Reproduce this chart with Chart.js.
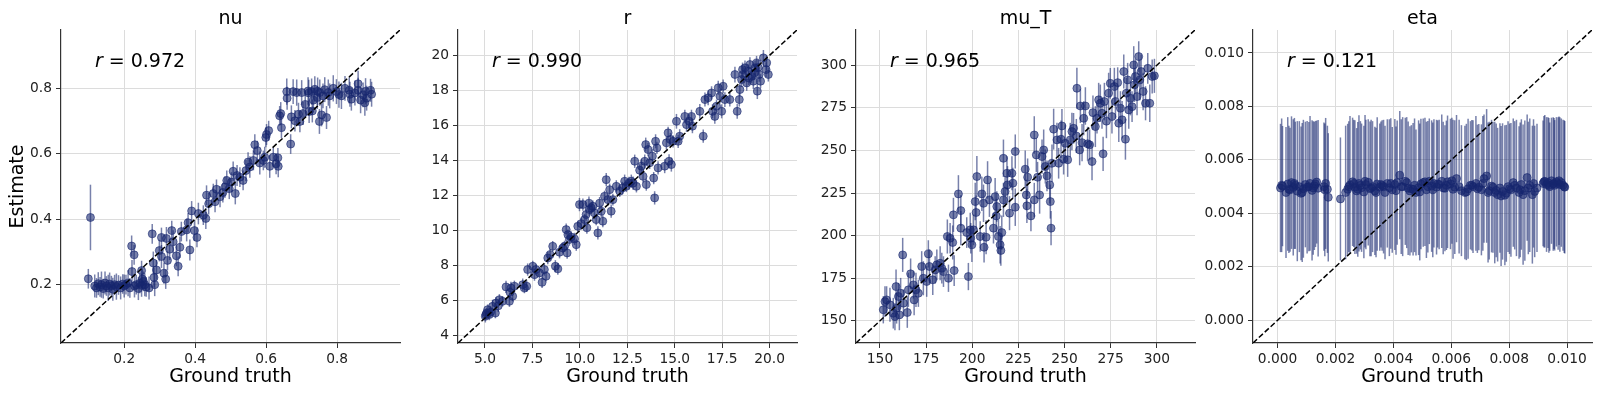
<!DOCTYPE html>
<html>
<head>
<meta charset="UTF-8">
<title>Parameter recovery</title>
<script src="https://cdn.jsdelivr.net/npm/chart.js@4.4.1/dist/chart.umd.min.js"></script>
<style>
  body { margin: 0; background: #fff; width: 1600px; height: 394px; overflow: hidden; position: relative; }
  canvas { position: absolute; top: 0; }
</style>
</head>
<body>
<canvas id="p0" width="405" height="394" style="left:1px"></canvas>
<canvas id="p1" width="405" height="394" style="left:398px"></canvas>
<canvas id="p2" width="405" height="394" style="left:796px"></canvas>
<canvas id="p3" width="405" height="394" style="left:1193px"></canvas>
<script>
// nu: ground truth, estimate, error half-width
var nuX = [
  0.099,0.105,0.117,0.122,0.127,0.132,0.136,0.141,0.146,0.150,
  0.155,0.159,0.164,0.168,0.173,0.178,0.184,0.190,0.196,0.200,
  0.205,0.211,0.216,0.229,0.234,0.240,0.244,0.249,0.254,0.258,
  0.262,0.270,0.221,0.228,0.222,0.249,0.251,0.279,0.282,0.284,
  0.286,0.291,0.299,0.305,0.305,0.312,0.317,0.319,0.322,0.328,
  0.334,0.338,0.347,0.352,0.357,0.361,0.376,0.380,0.385,0.390,
  0.398,0.405,0.409,0.423,0.430,0.432,0.438,0.451,0.456,0.460,
  0.470,0.478,0.484,0.489,0.496,0.502,0.513,0.507,0.518,0.526,
  0.535,0.543,0.549,0.554,0.564,0.568,0.575,0.582,0.592,0.596,
  0.599,0.601,0.607,0.610,0.620,0.628,0.633,0.634,0.638,0.643,
  0.641,0.669,0.658,0.659,0.676,0.671,0.681,0.686,0.691,0.695,
  0.700,0.704,0.710,0.718,0.721,0.728,0.730,0.733,0.737,0.744,
  0.750,0.756,0.751,0.760,0.770,0.775,0.779,0.789,0.798,0.812,
  0.822,0.834,0.836,0.840,0.859,0.859,0.866,0.873,0.878,0.883,
  0.894,0.897,0.720,0.745,0.765,0.805,0.850,0.880
];
var nuY = [
  0.218,0.405,0.196,0.190,0.203,0.193,0.200,0.188,0.205,0.196,
  0.190,0.202,0.197,0.186,0.200,0.194,0.199,0.190,0.202,0.196,
  0.200,0.205,0.190,0.196,0.200,0.188,0.204,0.198,0.210,0.200,
  0.193,0.190,0.318,0.291,0.240,0.243,0.217,0.355,0.266,0.222,
  0.200,0.245,0.304,0.344,0.286,0.235,0.217,0.341,0.274,0.308,
  0.365,0.331,0.288,0.256,0.314,0.362,0.367,0.389,0.306,0.425,
  0.365,0.344,0.417,0.412,0.402,0.473,0.447,0.478,0.453,0.491,
  0.468,0.481,0.498,0.518,0.493,0.513,0.478,0.546,0.533,0.528,
  0.518,0.548,0.574,0.559,0.579,0.627,0.609,0.571,0.579,0.589,
  0.649,0.658,0.670,0.561,0.589,0.569,0.587,0.561,0.715,0.679,
  0.722,0.629,0.789,0.769,0.789,0.712,0.700,0.786,0.720,0.698,
  0.786,0.722,0.750,0.791,0.728,0.789,0.730,0.763,0.796,0.771,
  0.698,0.718,0.786,0.776,0.710,0.786,0.776,0.799,0.789,0.776,
  0.799,0.793,0.781,0.766,0.813,0.793,0.763,0.779,0.755,0.769,
  0.793,0.781,0.785,0.790,0.795,0.780,0.785,0.790
];
var nuErr = [
  0.030,0.100,0.035,0.030,0.035,0.030,0.040,0.030,0.035,0.030,
  0.040,0.035,0.030,0.035,0.030,0.040,0.030,0.035,0.030,0.035,
  0.030,0.040,0.030,0.035,0.030,0.035,0.030,0.035,0.030,0.035,
  0.030,0.035,0.032,0.030,0.035,0.030,0.032,0.030,0.035,0.030,
  0.035,0.030,0.033,0.030,0.035,0.032,0.030,0.035,0.030,0.033,
  0.030,0.035,0.032,0.030,0.033,0.030,0.035,0.030,0.032,0.030,
  0.032,0.030,0.033,0.030,0.032,0.030,0.033,0.030,0.032,0.030,
  0.032,0.030,0.033,0.030,0.032,0.030,0.033,0.030,0.032,0.030,
  0.030,0.032,0.030,0.033,0.030,0.032,0.030,0.035,0.030,0.032,
  0.030,0.032,0.030,0.035,0.030,0.032,0.030,0.033,0.030,0.032,
  0.035,0.030,0.040,0.035,0.038,0.035,0.033,0.040,0.035,0.033,
  0.038,0.035,0.040,0.042,0.035,0.040,0.035,0.038,0.040,0.035,
  0.038,0.035,0.040,0.038,0.035,0.040,0.038,0.040,0.038,0.040,
  0.038,0.040,0.038,0.035,0.040,0.038,0.040,0.038,0.040,0.038,
  0.035,0.038,0.040,0.042,0.038,0.040,0.038,0.040
];

// r
var rX = [
  5.09,5.02,5.14,5.23,5.40,5.55,5.58,5.76,5.93,6.11,
  6.29,6.32,6.37,6.46,6.55,6.99,7.08,7.20,7.25,7.52,
  7.61,7.69,7.87,8.01,8.13,8.22,8.31,8.43,8.57,8.71,
  8.84,8.93,9.10,9.19,9.28,9.33,9.37,9.45,9.54,9.72,
  9.81,9.89,9.98,10.07,10.16,10.25,10.33,10.37,10.48,10.60,
  10.69,10.77,10.86,10.95,11.04,11.13,11.21,11.30,11.39,11.48,
  11.57,11.65,11.74,11.92,12.10,12.24,12.36,12.45,12.59,12.71,
  12.89,12.98,13.15,13.24,13.33,13.42,13.47,13.50,13.59,13.68,
  13.82,13.89,13.94,13.99,14.06,14.12,14.47,14.56,14.65,14.70,
  14.77,14.82,14.91,15.09,15.18,15.26,15.53,15.62,15.76,15.88,
  15.93,16.32,16.50,16.59,16.76,16.94,16.99,17.11,17.20,17.29,
  17.38,17.47,17.55,17.64,17.90,18.17,18.29,18.40,18.43,18.52,
  18.57,18.70,18.79,18.87,18.96,19.05,19.14,19.23,19.31,19.35,
  19.45,19.52,19.67,19.81,19.93,19.84,5.05,5.30,5.70,18.60,
  18.90,19.20,19.40,10.50,12.80
];
var rY = [
  5.29,5.10,5.48,5.20,5.67,5.29,5.86,6.05,5.96,6.78,
  5.96,6.47,6.72,6.25,6.82,6.91,6.72,6.82,7.77,7.96,
  7.48,7.77,7.58,7.04,7.77,7.39,8.43,8.62,9.10,7.96,
  7.81,8.76,9.00,9.10,10.05,8.72,9.76,9.48,9.63,9.52,
  9.19,10.24,11.48,10.39,11.48,10.62,10.91,10.15,11.56,11.29,
  11.38,11.00,10.62,9.86,11.56,11.10,10.53,11.95,12.90,11.76,
  12.33,11.10,11.76,12.52,12.24,12.43,12.81,12.52,12.71,12.81,
  13.95,12.52,13.44,13.67,13.09,13.95,14.90,12.62,14.62,13.86,
  14.24,12.99,11.86,15.09,14.71,13.57,13.67,15.00,15.57,13.95,
  15.19,13.76,15.09,16.23,15.09,15.38,16.51,16.04,16.23,16.51,
  15.95,16.80,15.38,17.47,17.57,17.85,16.80,16.51,17.09,18.14,
  17.66,16.80,18.23,17.47,17.47,18.90,16.80,17.47,18.04,18.61,
  19.18,19.28,18.42,19.09,19.47,18.80,18.52,19.28,19.56,17.95,
  18.90,18.52,19.85,19.18,18.90,19.56,5.20,5.35,5.70,18.90,
  18.70,19.00,19.30,11.20,12.70
];
var rErr = [
  0.30,0.35,0.30,0.32,0.38,0.30,0.35,0.32,0.30,0.35,
  0.32,0.30,0.35,0.30,0.32,0.35,0.30,0.33,0.35,0.32,
  0.35,0.30,0.33,0.32,0.35,0.30,0.35,0.32,0.30,0.35,
  0.33,0.35,0.30,0.32,0.35,0.33,0.30,0.35,0.32,0.35,
  0.35,0.32,0.38,0.33,0.35,0.32,0.35,0.33,0.38,0.35,
  0.33,0.35,0.32,0.38,0.35,0.33,0.35,0.32,0.38,0.35,
  0.35,0.38,0.33,0.35,0.32,0.35,0.38,0.33,0.35,0.38,
  0.38,0.35,0.33,0.40,0.35,0.38,0.40,0.35,0.38,0.35,
  0.40,0.35,0.38,0.40,0.35,0.38,0.40,0.38,0.35,0.40,
  0.38,0.40,0.35,0.42,0.38,0.40,0.38,0.42,0.40,0.38,
  0.40,0.42,0.38,0.40,0.42,0.38,0.40,0.42,0.38,0.40,
  0.42,0.40,0.38,0.42,0.40,0.45,0.42,0.40,0.38,0.42,
  0.40,0.42,0.45,0.40,0.42,0.40,0.45,0.42,0.40,0.45,
  0.42,0.40,0.45,0.42,0.40,0.42,0.30,0.32,0.35,0.42,
  0.40,0.42,0.45,0.35,0.38
];

// mu_T
var muX = [
  151.8,152.7,153.6,155.4,157.2,158.1,158.7,159.0,160.0,160.5,
  161.2,162.3,162.7,164.8,165.4,166.6,168.1,168.5,169.5,170.8,
  172.6,173.5,175.3,176.2,176.8,178.6,179.9,180.8,182.6,183.5,
  184.4,186.5,187.1,188.0,189.4,190.2,189.8,192.5,193.8,193.8,
  197.0,197.9,198.9,199.2,199.8,200.7,201.6,202.1,202.5,204.3,
  205.2,206.1,206.4,207.5,208.3,209.3,211.5,212.4,213.0,213.3,
  214.2,215.1,215.5,216.0,216.9,216.9,217.8,218.8,219.1,220.2,
  221.5,222.0,223.3,223.3,228.7,229.3,229.6,230.0,231.8,233.6,
  233.6,234.7,235.4,236.5,237.8,238.7,239.6,240.5,242.0,242.3,
  242.7,243.2,244.1,245.9,246.8,248.1,248.6,249.5,250.4,251.7,
  253.1,254.0,254.9,256.4,256.7,258.2,258.6,259.5,260.4,261.3,
  262.5,263.6,264.9,265.4,266.7,267.6,268.5,269.4,270.3,270.9,
  271.6,272.7,273.9,274.8,275.7,277.0,277.6,278.8,279.4,280.3,
  281.2,282.1,283.0,283.5,284.2,284.8,285.7,286.6,287.5,287.9,
  288.4,289.3,290.2,290.8,291.5,292.6,293.9,295.1,296.2,297.5,
  298.7
];
var muY = [
  156.5,161.3,162.3,159.4,154.5,152.5,170.1,157.4,164.3,153.5,
  166.2,188.7,160.4,154.9,168.2,177.6,171.1,162.3,168.2,166.2,
  181.9,175.0,173.1,189.3,181.9,174.1,179.9,182.9,183.8,180.9,
  178.9,199.5,175.0,198.5,196.0,179.5,212.2,224.5,214.7,204.4,
  201.8,176.0,203.4,198.5,194.6,203.4,220.0,213.6,234.7,199.5,
  224.5,219.0,193.2,199.1,232.7,221.0,204.4,222.9,211.6,217.1,
  199.5,194.6,191.3,201.8,245.4,221.0,225.9,236.6,229.8,213.2,
  236.6,230.8,216.7,249.4,239.0,223.9,217.5,234.3,211.6,221.0,
  259.1,247.4,234.3,223.9,246.4,250.3,240.6,235.1,229.8,220.0,
  204.4,242.5,262.5,256.2,242.5,256.6,264.4,244.9,254.2,244.5,
  256.2,261.1,263.0,258.5,286.5,250.3,276.1,254.6,268.9,276.1,
  253.9,253.3,243.5,272.2,264.0,268.9,279.7,277.7,271.8,248.0,
  278.7,267.2,283.6,289.4,269.9,287.5,278.7,289.8,266.0,274.8,
  268.0,296.3,256.6,283.6,291.4,273.8,280.6,275.7,300.2,288.5,
  293.4,281.6,305.1,291.4,296.3,284.6,277.7,298.2,277.7,293.4,
  293.8
];
var muErr = [
  8,9,8,10,9,8,10,9,8,9,
  9,10,8,9,10,9,8,9,10,8,
  9,10,9,8,10,9,8,9,10,9,
  9,10,8,9,10,9,10,11,9,10,
  9,8,10,9,10,9,11,10,12,9,
  10,11,9,10,11,10,9,11,10,9,
  10,11,9,10,11,10,9,10,11,10,
  10,9,11,10,11,9,10,11,9,10,
  11,10,9,11,10,12,10,9,11,10,
  10,11,12,10,9,11,10,9,11,10,
  10,11,9,10,12,9,10,11,10,11,
  10,9,11,10,12,9,10,11,9,10,
  11,10,12,9,10,11,10,9,11,10,
  11,10,12,9,10,11,10,9,11,10,
  10,11,9,12,10,11,10,9,11,10,
  10
];

// eta
var etaX = [
  0.00010,0.00017,0.00029,0.00035,0.00043,0.00048,0.00054,0.00061,0.00068,0.00075,
  0.00081,0.00089,0.00096,0.00102,0.00112,0.00119,0.00127,0.00135,0.00140,0.00160,
  0.00166,0.00172,0.00175,0.00217,0.00235,0.00242,0.00250,0.00259,0.00267,0.00273,
  0.00281,0.00290,0.00298,0.00305,0.00313,0.00319,0.00328,0.00336,0.00344,0.00353,
  0.00361,0.00371,0.00379,0.00386,0.00396,0.00405,0.00413,0.00422,0.00432,0.00441,
  0.00451,0.00457,0.00468,0.00478,0.00487,0.00495,0.00503,0.00514,0.00524,0.00532,
  0.00540,0.00549,0.00558,0.00567,0.00578,0.00587,0.00597,0.00606,0.00618,0.00627,
  0.00635,0.00647,0.00658,0.00666,0.00675,0.00685,0.00695,0.00704,0.00713,0.00722,
  0.00731,0.00739,0.00750,0.00760,0.00768,0.00777,0.00785,0.00796,0.00806,0.00814,
  0.00825,0.00834,0.00842,0.00854,0.00862,0.00871,0.00880,0.00888,0.00896,0.00917,
  0.00923,0.00929,0.00934,0.00940,0.00946,0.00952,0.00957,0.00963,0.00969,0.00975,
  0.00980,0.00986,0.00992,
  0.00014,0.00039,0.00058,0.00085,0.00108,0.00123,0.00131,0.00163,
  0.00246,0.00263,0.00277,0.00286,0.00302,0.00323,0.00340,0.00357,0.00366,0.00391,
  0.00409,0.00427,0.00446,0.00462,0.00473,0.00491,0.00509,0.00519,0.00536,0.00553,
  0.00572,0.00583,0.00602,0.00612,0.00652,0.00671,0.00690,0.00709,0.00727,0.00744,
  0.00755,0.00772,0.00790,0.00801,0.00819,0.00838,0.00848,0.00866,0.00884,0.00920,
  0.00937,0.00955,0.00972,0.00990
];
var etaY = [
  0.00495,0.00502,0.00478,0.00510,0.00488,0.00515,0.00497,0.00505,0.00483,0.00500,
  0.00475,0.00492,0.00508,0.00498,0.00512,0.00486,0.00503,0.00517,0.00494,0.00500,
  0.00512,0.00490,0.00460,0.00454,0.00478,0.00490,0.00506,0.00518,0.00498,0.00484,
  0.00512,0.00496,0.00480,0.00508,0.00516,0.00492,0.00500,0.00484,0.00510,0.00498,
  0.00504,0.00478,0.00512,0.00496,0.00488,0.00508,0.00515,0.00543,0.00500,0.00520,
  0.00494,0.00484,0.00490,0.00478,0.00496,0.00510,0.00515,0.00488,0.00520,0.00502,
  0.00512,0.00498,0.00508,0.00520,0.00494,0.00518,0.00510,0.00490,0.00530,0.00500,
  0.00485,0.00478,0.00492,0.00505,0.00500,0.00512,0.00498,0.00488,0.00530,0.00540,
  0.00485,0.00502,0.00478,0.00470,0.00495,0.00482,0.00468,0.00500,0.00488,0.00515,
  0.00495,0.00478,0.00508,0.00485,0.00534,0.00505,0.00470,0.00482,0.00495,0.00512,
  0.00520,0.00508,0.00515,0.00500,0.00522,0.00510,0.00505,0.00518,0.00512,0.00508,
  0.00515,0.00505,0.00498,
  0.00505,0.00490,0.00512,0.00478,0.00500,0.00495,0.00510,0.00488,
  0.00500,0.00512,0.00490,0.00505,0.00520,0.00495,0.00478,0.00508,0.00500,0.00512,
  0.00485,0.00500,0.00515,0.00492,0.00505,0.00480,0.00518,0.00500,0.00488,0.00510,
  0.00495,0.00505,0.00522,0.00498,0.00480,0.00505,0.00492,0.00512,0.00478,0.00498,
  0.00486,0.00465,0.00475,0.00492,0.00505,0.00488,0.00470,0.00495,0.00512,0.00518,
  0.00505,0.00512,0.00522,0.00500
];
var etaErr = [
  0.00240,0.00225,0.00245,0.00250,0.00232,0.00248,0.00255,0.00238,0.00262,0.00245,
  0.00250,0.00258,0.00235,0.00248,0.00252,0.00262,0.00240,0.00230,0.00255,0.00240,
  0.00245,0.00238,0.00240,0.00230,0.00250,0.00245,0.00258,0.00240,0.00250,0.00235,
  0.00255,0.00240,0.00248,0.00242,0.00236,0.00252,0.00245,0.00240,0.00250,0.00238,
  0.00244,0.00250,0.00240,0.00256,0.00235,0.00245,0.00232,0.00240,0.00260,0.00238,
  0.00250,0.00242,0.00248,0.00236,0.00252,0.00244,0.00240,0.00255,0.00235,0.00246,
  0.00240,0.00252,0.00242,0.00250,0.00236,0.00248,0.00244,0.00260,0.00238,0.00250,
  0.00245,0.00250,0.00262,0.00240,0.00248,0.00252,0.00236,0.00245,0.00240,0.00250,
  0.00258,0.00248,0.00265,0.00250,0.00242,0.00255,0.00262,0.00245,0.00250,0.00240,
  0.00255,0.00248,0.00244,0.00262,0.00236,0.00250,0.00258,0.00246,0.00240,0.00235,
  0.00248,0.00252,0.00245,0.00240,0.00236,0.00250,0.00244,0.00242,0.00248,0.00252,
  0.00240,0.00245,0.00248,
  0.00250,0.00238,0.00245,0.00260,0.00242,0.00250,0.00236,0.00248,
  0.00245,0.00238,0.00252,0.00240,0.00248,0.00255,0.00242,0.00236,0.00250,0.00244,
  0.00240,0.00252,0.00245,0.00238,0.00250,0.00256,0.00240,0.00246,0.00252,0.00238,
  0.00248,0.00242,0.00236,0.00250,0.00255,0.00244,0.00240,0.00252,0.00262,0.00245,
  0.00250,0.00262,0.00256,0.00244,0.00240,0.00252,0.00262,0.00248,0.00240,0.00246,
  0.00252,0.00245,0.00240,0.00248
];

// axis limits and ticks
var nuLim = [0.022, 0.977];
var rLim = [3.58, 21.44];
var muLim = [137.0, 320.7];
var etaLim = [-0.00085, 0.01086];
var nuTicks = [0.2, 0.4, 0.6, 0.8];
var rTicksX = [5, 7.5, 10, 12.5, 15, 17.5, 20];
var rTicksY = [4, 6, 8, 10, 12, 14, 16, 18, 20];
var muTicks = [150, 175, 200, 225, 250, 275, 300];
var etaTicks = [0, 0.002, 0.004, 0.006, 0.008, 0.010];

var FONT = '"DejaVu Sans", sans-serif';
var DOT = 'rgba(22,38,110,0.58)';

// vertical error bars, drawn under the markers
var errorBars = {
    id: 'errorBars',
    beforeDatasetsDraw: function (chart) {
        var ds = chart.data.datasets[0];
        var sx = chart.scales.x, sy = chart.scales.y, a = chart.chartArea;
        var ctx = chart.ctx;
        ctx.save();
        ctx.beginPath();
        ctx.rect(a.left, a.top, a.right - a.left, a.bottom - a.top);
        ctx.clip();
        ctx.strokeStyle = DOT;
        ctx.lineWidth = 1.5;
        ds.data.forEach(function (pt, i) {
            var e = ds.errors[i];
            var px = sx.getPixelForValue(pt.x);
            ctx.beginPath();
            ctx.moveTo(px, sy.getPixelForValue(pt.y - e));
            ctx.lineTo(px, sy.getPixelForValue(pt.y + e));
            ctx.stroke();
        });
        ctx.restore();
    }
};

// panel title and correlation note
var panelText = {
    id: 'panelText',
    afterDraw: function (chart) {
        var o = chart.options.plugins.panelText;
        var a = chart.chartArea, ctx = chart.ctx;
        ctx.save();
        ctx.fillStyle = '#000';
        ctx.textBaseline = 'alphabetic';
        ctx.textAlign = 'center';
        ctx.font = '19px ' + FONT;
        ctx.fillText(o.title, (a.left + a.right) / 2, 23.5);
        var x0 = a.left + 0.1 * (a.right - a.left);
        var y0 = a.top + 0.1 * (a.bottom - a.top) + 5.5;
        ctx.textAlign = 'left';
        ctx.font = 'italic 19px ' + FONT;
        ctx.fillText('r', x0, y0);
        var w = ctx.measureText('r').width;
        ctx.font = '19px ' + FONT;
        ctx.fillText(' = ' + o.r, x0 + w, y0);
        ctx.restore();
    }
};

var panels = [
    { id: 'p0', title: 'nu',   r: '0.972', xs: nuX,  ys: nuY,  err: nuErr,  lim: nuLim,  xt: nuTicks,  yt: nuTicks,  xd: 1, yd: 1, ylabel: 'Estimate' },
    { id: 'p1', title: 'r',    r: '0.990', xs: rX,   ys: rY,   err: rErr,   lim: rLim,   xt: rTicksX,  yt: rTicksY,  xd: 1, yd: 0, ylabel: '' },
    { id: 'p2', title: 'mu_T', r: '0.965', xs: muX,  ys: muY,  err: muErr,  lim: muLim,  xt: muTicks,  yt: muTicks,  xd: 0, yd: 0, ylabel: '' },
    { id: 'p3', title: 'eta',  r: '0.121', xs: etaX, ys: etaY, err: etaErr, lim: etaLim, xt: etaTicks, yt: etaTicks, xd: 3, yd: 3, ylabel: '' }
];

function axis(p, ticks, dec, horizontal) {
    return {
        type: 'linear',
        min: p.lim[0],
        max: p.lim[1],
        afterBuildTicks: function (s) {
            s.ticks = ticks.map(function (v) { return { value: v }; });
        },
        afterFit: function (s) {
            if (horizontal) { s.height = 51; } else { s.width = 60; }
        },
        ticks: {
            autoSkip: false,
            maxRotation: 0,
            padding: horizontal ? 3 : 4,
            color: '#222',
            font: { family: FONT, size: 13.8 },
            callback: function (v) { return Number(v).toFixed(dec); }
        },
        grid: { color: '#dcdcdc', lineWidth: 1, tickColor: '#333', tickLength: 5 },
        border: { display: true, color: '#333', width: 1.2 },
        title: horizontal
            ? { display: true, text: 'Ground truth', color: '#000', font: { family: FONT, size: 19 }, padding: { top: 0, bottom: 6 } }
            : { display: !!p.ylabel, text: p.ylabel, color: '#000', font: { family: FONT, size: 19 }, padding: { top: 5.5, bottom: 0 } }
    };
}

panels.forEach(function (p) {
    var pts = p.xs.map(function (x, i) { return { x: x, y: p.ys[i] }; });
    new Chart(document.getElementById(p.id), {
        type: 'scatter',
        data: {
            datasets: [
                {
                    data: pts,
                    errors: p.err,
                    order: 1,
                    pointRadius: 4,
                    pointHoverRadius: 4,
                    pointBorderWidth: 1,
                    backgroundColor: DOT,
                    borderColor: DOT
                },
                {
                    type: 'line',
                    data: [{ x: p.lim[0], y: p.lim[0] }, { x: p.lim[1], y: p.lim[1] }],
                    order: 0,
                    showLine: true,
                    borderColor: '#000',
                    borderWidth: 1.5,
                    borderDash: [5.5, 2.5],
                    pointRadius: 0,
                    fill: false
                }
            ]
        },
        options: {
            responsive: false,
            devicePixelRatio: 1,
            animation: false,
            layout: { padding: { left: 0, right: 6, top: 30, bottom: 0 } },
            plugins: {
                legend: { display: false },
                tooltip: { enabled: false },
                panelText: { title: p.title, r: p.r }
            },
            scales: {
                x: axis(p, p.xt, p.xd, true),
                y: axis(p, p.yt, p.yd, false)
            }
        },
        plugins: [errorBars, panelText]
    });
});
</script>
</body>
</html>
